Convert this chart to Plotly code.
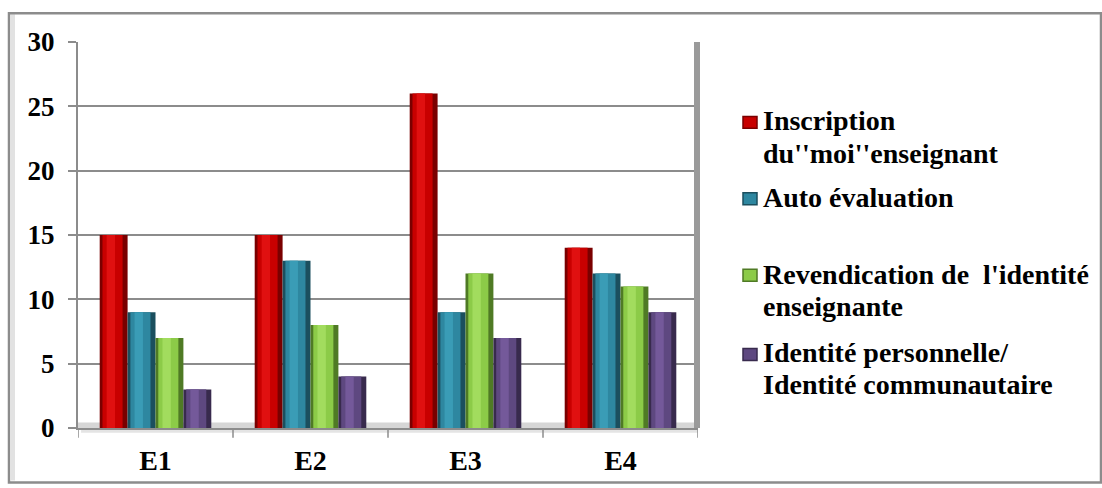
import plotly.graph_objects as go

categories = ["E1", "E2", "E3", "E4"]
series_names = [
    "Inscription<br>du''moi''enseignant",
    "Auto évaluation",
    "Revendication de  l'identité<br>enseignante",
    "Identité personnelle/<br>Identité communautaire",
]
inscription = [15, 15, 26, 14]
auto_eval = [9, 13, 9, 12]
revendication = [7, 8, 12, 11]
identite = [3, 4, 7, 9]
series_values = [inscription, auto_eval, revendication, identite]
y_ticks = [0, 5, 10, 15, 20, 25, 30]

main_colors = ["#C80000", "#2E87A0", "#8CCB48", "#5E4880"]
dark_colors = ["#7A0000", "#1B4F5E", "#4F7A25", "#382A4D"]
light_colors = ["#E01010", "#3A9CB6", "#A2DC5E", "#74599A"]

FONT = "Liberation Serif"
xpos = list(range(len(categories)))
group_w = 0.72
bw = group_w / 4

fig = go.Figure()
for i, (name, vals) in enumerate(zip(series_names, series_values)):
    off = -group_w / 2 + i * bw
    fig.add_trace(go.Bar(
        x=xpos, y=vals, name=name.replace("<br>", " "), width=bw, offset=off,
        marker=dict(color=dark_colors[i], line=dict(width=0)),
        showlegend=False,
    ))
    fig.add_trace(go.Bar(
        x=xpos, y=vals, width=bw * 0.72, offset=off + bw * 0.1,
        marker=dict(color=main_colors[i], line=dict(width=0)),
        showlegend=False, hoverinfo="skip",
    ))
    fig.add_trace(go.Bar(
        x=xpos, y=vals, width=bw * 0.3, offset=off + bw * 0.25,
        marker=dict(color=light_colors[i], line=dict(width=0)),
        showlegend=False, hoverinfo="skip",
    ))

# plot area in pixels: x 78..698, y 42..431
L, R, T, B = 78, 698, 42, 431
def px(xp):
    return (xp - L) / (R - L)
def py(yp):
    return (B - yp) / (B - T)

fig.update_layout(
    width=1102, height=488,
    margin=dict(l=L, r=1102 - R, t=T, b=488 - B),
    paper_bgcolor="white", plot_bgcolor="white",
    barmode="overlay",
    showlegend=False,
    font=dict(family=FONT, color="#000000"),
    xaxis=dict(
        range=[-0.5, 3.5], tickvals=xpos,
        ticktext=["<b>" + c + "</b>" for c in categories],
        showgrid=False, zeroline=False,
        showline=True, linecolor="#8C8C8C", linewidth=2,
        ticks="", ticklabelstandoff=6,
        tickfont=dict(family=FONT, size=28, color="#000000"),
        fixedrange=True,
    ),
    yaxis=dict(
        range=[0, 30], tickvals=y_ticks,
        ticktext=["<b>" + str(v) + "</b>" for v in y_ticks],
        showgrid=True, gridcolor="#8C8C8C", gridwidth=1.5,
        zeroline=False, showline=True, linecolor="#8C8C8C", linewidth=2,
        ticks="outside", ticklen=8, tickcolor="#8C8C8C", tickwidth=1.5,
        ticklabelstandoff=8,
        tickfont=dict(family=FONT, size=27, color="#000000"),
        fixedrange=True,
    ),
)

# category separator ticks on x axis
for k in range(len(categories) + 1):
    fig.add_shape(type="line", xref="x", yref="paper",
                  x0=k - 0.5, x1=k - 0.5, y0=0, y1=-0.025,
                  line=dict(color="#8C8C8C", width=1.5))

# floor strip and shadow
fig.add_shape(type="rect", xref="paper", yref="paper", x0=0, x1=1, y0=0, y1=0.014,
              fillcolor="#D6D6D6", line=dict(width=0), layer="below")
fig.add_shape(type="rect", xref="paper", yref="paper", x0=0.005, x1=1, y0=-0.012, y1=0,
              fillcolor="#E4E4E4", line=dict(width=0), layer="below")
# right wall edge
fig.add_shape(type="rect", xref="paper", yref="paper", x0=px(694), x1=px(700), y0=0, y1=1,
              fillcolor="#9A9A9A", line=dict(width=0))

# outer frame
fig.add_shape(type="rect", xref="paper", yref="paper",
              x0=px(9), x1=px(1101), y0=py(486), y1=py(13),
              line=dict(color="#8C8C8C", width=2.5), fillcolor="rgba(0,0,0,0)")
fig.add_shape(type="rect", xref="paper", yref="paper",
              x0=px(11), x1=px(15), y0=py(484), y1=py(14),
              fillcolor="#E2E2E2", line=dict(width=0), layer="below")

# custom legend: marker + one annotation per text line
legend_marker_y = [123, 200, 277, 357]
legend_line_y = [[122, 155], [200], [277, 310], [356, 388]]
for i, name in enumerate(series_names):
    ym = legend_marker_y[i]
    fig.add_shape(type="rect", xref="paper", yref="paper",
                  x0=px(743), x1=px(757), y0=py(ym + 6), y1=py(ym - 6),
                  fillcolor=main_colors[i], line=dict(color=dark_colors[i], width=1.5))
    for line, yl in zip(name.split("<br>"), legend_line_y[i]):
        fig.add_annotation(
            xref="paper", yref="paper", x=px(762), y=py(yl - 1),
            xanchor="left", yanchor="middle", align="left", showarrow=False,
            text="<b>" + line + "</b>",
            font=dict(family=FONT, size=28, color="#000000"),
            borderpad=0,
        )

fig.write_html("out.html")
